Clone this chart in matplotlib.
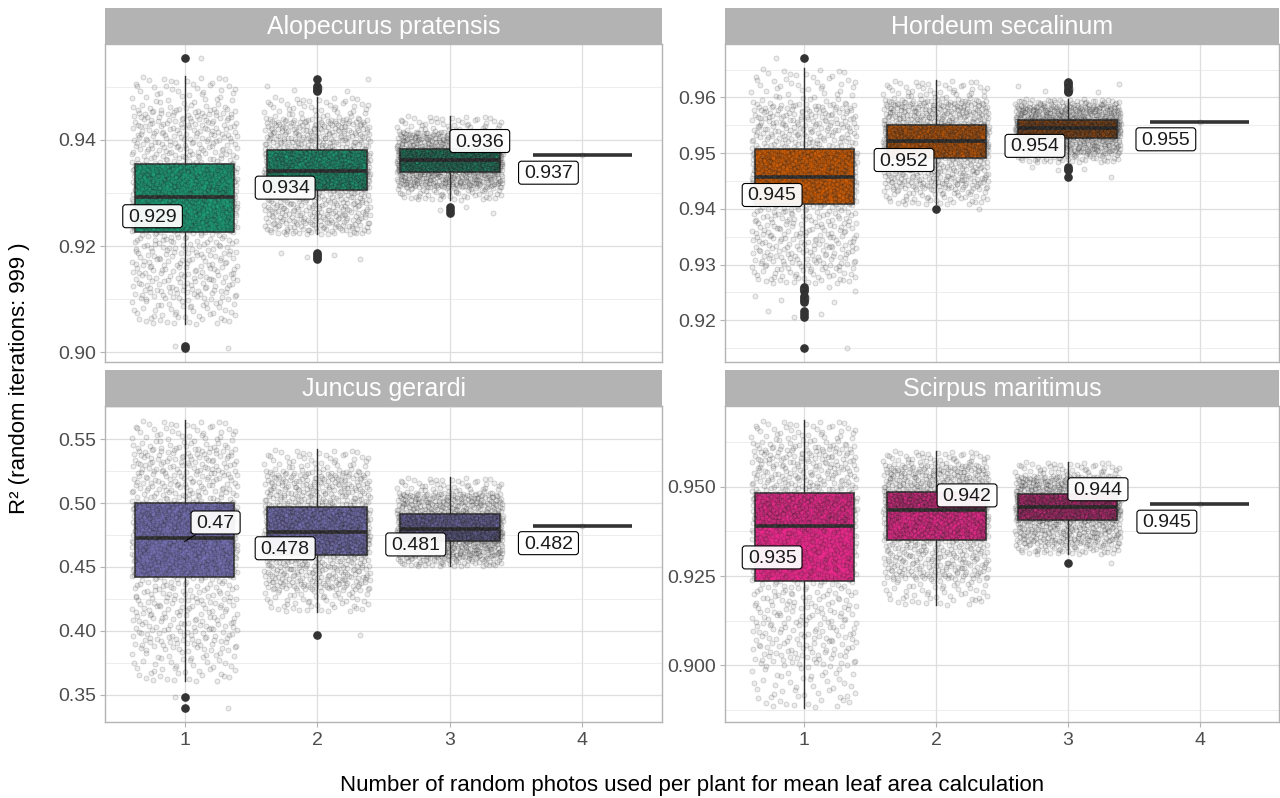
import numpy as np
import matplotlib
matplotlib.use("Agg")
import matplotlib.pyplot as plt
from matplotlib.ticker import FixedLocator, FormatStrFormatter
from matplotlib.patches import FancyBboxPatch, ConnectionPatch
from matplotlib.transforms import IdentityTransform
from matplotlib.text import Text

plt.rcParams['font.family'] = ['Liberation Sans', 'DejaVu Sans']

# ---------------- data ----------------
species = ["Alopecurus pratensis", "Hordeum secalinum", "Juncus gerardi", "Scirpus maritimus"]
photos = [1, 2, 3, 4]
# iterations per group (only one possible combination when all 4 photos are used)
n_points = [999, 999, 999, 1]

alo_q1 = [0.9227, 0.9306, 0.9340, 0.9371]
alo_med = [0.9293, 0.9342, 0.9362, 0.9371]
alo_q3 = [0.9355, 0.9381, 0.9383, 0.9371]
alo_wlo = [0.9053, 0.9222, 0.9287, 0.9371]
alo_whi = [0.9520, 0.9481, 0.9445, 0.9371]
alo_p05 = [0.9100, 0.9240, 0.9310, 0.9371]
alo_p95 = [0.9460, 0.9440, 0.9415, 0.9371]
alo_out = [[0.9553, 0.9011, 0.9009],
           [0.9515, 0.9501, 0.9497, 0.9494, 0.9491, 0.9187, 0.9183, 0.9179, 0.9175],
           [0.9273, 0.9268, 0.9263], []]
alo_mean = [0.929, 0.934, 0.936, 0.937]

hor_q1 = [0.9408, 0.9492, 0.9528, 0.9556]
hor_med = [0.9458, 0.9522, 0.9545, 0.9556]
hor_q3 = [0.9507, 0.9551, 0.9560, 0.9556]
hor_wlo = [0.9266, 0.9408, 0.9484, 0.9556]
hor_whi = [0.9652, 0.9631, 0.9597, 0.9556]
hor_p05 = [0.9300, 0.9435, 0.9500, 0.9556]
hor_p95 = [0.9590, 0.9595, 0.9585, 0.9556]
hor_out = [[0.9670, 0.9260, 0.9257, 0.9253, 0.9244, 0.9240, 0.9236, 0.9232,
            0.9217, 0.9212, 0.9205, 0.9151],
           [0.9400],
           [0.9628, 0.9624, 0.9620, 0.9616, 0.9612, 0.9609, 0.9475, 0.9472, 0.9470, 0.9457],
           []]
hor_mean = [0.945, 0.952, 0.954, 0.955]

jun_q1 = [0.4424, 0.4592, 0.4701, 0.4818]
jun_med = [0.4727, 0.4774, 0.4794, 0.4818]
jun_q3 = [0.5005, 0.4971, 0.4917, 0.4818]
jun_wlo = [0.3603, 0.4151, 0.4506, 0.4818]
jun_whi = [0.5649, 0.5421, 0.5202, 0.4818]
jun_p05 = [0.3850, 0.4320, 0.4570, 0.4818]
jun_p95 = [0.5450, 0.5250, 0.5080, 0.4818]
jun_out = [[0.3481, 0.3398], [0.3967], [], []]
jun_mean = [0.47, 0.478, 0.481, 0.482]

sci_q1 = [0.9237, 0.9351, 0.9406, 0.9453]
sci_med = [0.9391, 0.9434, 0.9443, 0.9453]
sci_q3 = [0.9482, 0.9486, 0.9479, 0.9453]
sci_wlo = [0.8882, 0.9170, 0.9312, 0.9453]
sci_whi = [0.9686, 0.9600, 0.9570, 0.9453]
sci_p05 = [0.9000, 0.9240, 0.9340, 0.9453]
sci_p95 = [0.9620, 0.9560, 0.9530, 0.9453]
sci_out = [[], [], [0.9288], []]
sci_mean = [0.935, 0.942, 0.944, 0.945]

y_major = [[0.90, 0.92, 0.94], [0.92, 0.93, 0.94, 0.95, 0.96],
           [0.35, 0.40, 0.45, 0.50, 0.55], [0.900, 0.925, 0.950]]
y_fmt = ["%.2f", "%.2f", "%.2f", "%.3f"]

# ---------------- styling / layout ----------------
colors = ["#1B9E77", "#D95F02", "#7570B3", "#E7298A"]
# label offsets (pixels, y up) from the (x, mean) anchor, and whether a leader segment shows
label_offsets = [
    [(-32, -19), (-32, -17), (30, 19), (-34, -18)],
    [(-32, -15), (-32, -19), (-33, -16), (-34, -15)],
    [(31, 18), (-32, -18), (-34, -18), (-34, -18)],
    [(-32, -18), (31, 19), (30, 18), (-33, -18)],
]
label_segment = [
    [False, False, False, False],
    [False, False, False, False],
    [True, False, False, False],
    [False, False, False, False],
]
W, H = 1280, 798
panels_px = [(105, 662, 44, 362), (725, 1279, 44, 362),
             (105, 662, 406, 722), (725, 1279, 406, 722)]
strip_h = 36
grey70 = "#B3B3B3"
txt_grey = "#4D4D4D"


def halton(i, base):
    f, r = 1.0, 0.0
    while i > 0:
        f /= base
        r += f * (i % base)
        i //= base
    return r


fig = plt.figure(figsize=(W / 100, H / 100), dpi=100)

datasets = [
    (alo_q1, alo_med, alo_q3, alo_wlo, alo_whi, alo_p05, alo_p95, alo_out, alo_mean),
    (hor_q1, hor_med, hor_q3, hor_wlo, hor_whi, hor_p05, hor_p95, hor_out, hor_mean),
    (jun_q1, jun_med, jun_q3, jun_wlo, jun_whi, jun_p05, jun_p95, jun_out, jun_mean),
    (sci_q1, sci_med, sci_q3, sci_wlo, sci_whi, sci_p05, sci_p95, sci_out, sci_mean),
]

label_texts = []
for k, (q1, med, q3, wlo, whi, p05, p95, outs, means) in enumerate(datasets):
    x0, x1, yt, yb = panels_px[k]
    ax = fig.add_axes([x0 / W, 1 - yb / H, (x1 - x0) / W, (yb - yt) / H])
    sax = fig.add_axes([x0 / W, 1 - yt / H, (x1 - x0) / W, strip_h / H])
    sax.set_facecolor(grey70)
    sax.set_xticks([]); sax.set_yticks([])
    for s in sax.spines.values():
        s.set_visible(False)
    sax.text(0.5, 0.47, species[k], ha='center', va='center', color='white',
             fontsize=18, transform=sax.transAxes)

    stats = []
    for i in range(4):
        stats.append(dict(med=med[i], q1=q1[i], q3=q3[i], whislo=wlo[i],
                          whishi=whi[i], fliers=outs[i], label=str(photos[i])))
    ax.bxp(stats, positions=photos, widths=0.75, patch_artist=True, showcaps=False,
           manage_ticks=False,
           boxprops=dict(facecolor=colors[k], edgecolor='#333333', linewidth=1.1),
           medianprops=dict(color='#333333', linewidth=2.6, solid_capstyle='butt'),
           whiskerprops=dict(color='#333333', linewidth=1.0),
           flierprops=dict(marker='o', markerfacecolor='#333333',
                           markeredgecolor='#333333', markersize=5.2),
           zorder=2)

    # jittered cloud of the iterations (quantile representation of the read stats)
    xs, ys = [], []
    for i in range(4):
        n_body = max(n_points[i] - len(outs[i]), 1)
        knots_v = [wlo[i], p05[i], q1[i], med[i], q3[i], p95[i], whi[i]]
        knots_p = [0.0, 0.05, 0.25, 0.5, 0.75, 0.95, 1.0]
        pvals = np.array([halton(j + 1, 3) for j in range(n_body)])
        body = np.interp(pvals, knots_p, knots_v)
        vals = np.concatenate([body, np.array(outs[i], dtype=float)])
        jit = np.array([halton(j + 1, 2) - 0.5 for j in range(len(vals))]) * 0.8
        xs.append(photos[i] + jit)
        ys.append(vals)
    ax.scatter(np.concatenate(xs), np.concatenate(ys), s=13,
               facecolor=(0.35, 0.35, 0.35, 0.11), edgecolor=(0, 0, 0, 0.17),
               linewidths=0.6, zorder=3)

    # mean labels (text; boxes added after layout)
    for i in range(4):
        t = ax.annotate(f"{means[i]:g}", xy=(photos[i], means[i]),
                        xytext=label_offsets[k][i],
                        textcoords='offset pixels', ha='center', va='center',
                        fontsize=14, color='#1A1A1A', zorder=6)
        label_texts.append((ax, t, label_segment[k][i], photos[i], means[i]))

    # scales
    allv = [v for i in range(4) for v in [wlo[i], whi[i]] + outs[i]]
    lo, hi = min(allv), max(allv)
    pad = 0.05 * (hi - lo)
    ax.set_ylim(lo - pad, hi + pad)
    ax.set_xlim(0.4, 4.6)

    majors = y_major[k]
    step = majors[1] - majors[0]
    minors = [majors[0] - step / 2] + [m + step / 2 for m in majors]
    ax.yaxis.set_major_locator(FixedLocator(majors))
    ax.yaxis.set_minor_locator(FixedLocator(minors))
    ax.yaxis.set_major_formatter(FormatStrFormatter(y_fmt[k]))
    ax.set_xticks(photos)
    ax.set_axisbelow(True)
    ax.grid(True, which='major', color='#DEDEDE', lw=0.9)
    ax.grid(True, which='minor', axis='y', color='#E6E6E6', lw=0.5)
    for s in ax.spines.values():
        s.set_color(grey70)
        s.set_linewidth(1.0)
    ax.tick_params(axis='y', which='major', length=3.5, color=grey70,
                   labelsize=14, labelcolor=txt_grey, pad=3)
    ax.tick_params(axis='y', which='minor', length=0)
    if k < 2:
        ax.tick_params(axis='x', length=0, labelbottom=False)
    else:
        ax.set_xticklabels([str(p) for p in photos])
        ax.tick_params(axis='x', length=3.5, color=grey70, labelsize=14,
                       labelcolor=txt_grey, pad=4)

fig.text(692 / W, 1 - 785 / H, "Number of random photos used per plant for mean leaf area calculation",
         ha='center', va='center', fontsize=16, color='black')
fig.text(20 / W, 1 - 378 / H, "R² (random iterations: 999 )", rotation=90,
         ha='center', va='center', fontsize=16, color='black')

# label boxes (ggrepel style), sized to the rendered text
fig.canvas.draw()
renderer = fig.canvas.get_renderer()
for ax, t, seg, xv, yv in label_texts:
    bb = Text.get_window_extent(t, renderer)
    cx = 0.5 * (bb.x0 + bb.x1)
    cy = 0.5 * (bb.y0 + bb.y1) + 1.0
    w = bb.width + 11
    h = 23
    patch = FancyBboxPatch((cx - w / 2, cy - h / 2), w, h,
                           boxstyle='round,pad=0,rounding_size=3',
                           transform=IdentityTransform(), facecolor=(1, 1, 1, 0.94),
                           edgecolor='black', linewidth=0.8, zorder=5.5, clip_on=False)
    ax.add_patch(patch)
    if seg:
        ax.add_artist(ConnectionPatch(xyA=(xv, yv), coordsA=ax.transData,
                                      xyB=(cx, cy), coordsB=IdentityTransform(),
                                      arrowstyle='-', color='black', lw=0.7,
                                      shrinkA=0, shrinkB=0, patchB=patch, zorder=5.4))

fig.savefig("out.png", dpi=100)
